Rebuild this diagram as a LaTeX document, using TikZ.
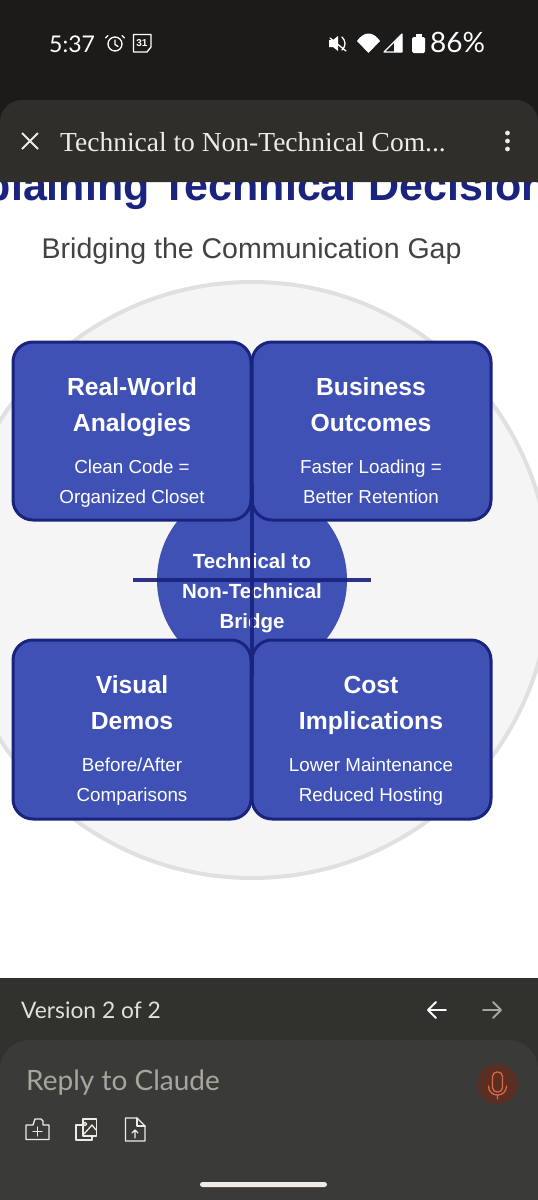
\documentclass[tikz,border=0pt]{standalone}
\usepackage{fontspec}
\setmainfont{Liberation Sans}
\newfontfamily\serifui{Liberation Serif}
\newfontfamily\uifont{Lato}
\newcommand{\fs}[1]{\fontsize{#1}{#1}\selectfont}
\definecolor{statusbg}{HTML}{1C1B1A}
\definecolor{headbg}{HTML}{2F2E2B}
\definecolor{footbg}{HTML}{31312E}
\definecolor{replybg}{HTML}{3A3A38}
\definecolor{indigo}{HTML}{3F51B5}
\definecolor{navy}{HTML}{1A237E}
\definecolor{ringfill}{HTML}{F5F5F5}
\definecolor{ringline}{HTML}{E0E0E0}
\definecolor{subtxt}{HTML}{424242}
\definecolor{uilight}{HTML}{EDEBE4}
\definecolor{uigrey}{HTML}{A8A69C}
\definecolor{micbg}{HTML}{5A2E20}
\definecolor{micfg}{HTML}{D9694A}
\tikzset{
  x=1pt,y=-1pt,
  card/.style={draw=navy,line width=3pt,fill=indigo,rounded corners=20pt},
  cardhead/.style={text=white,align=center,font=\fs{24.7}\bfseries,inner sep=0pt},
  cardbody/.style={text=white,align=center,font=\fs{18.8},inner sep=0pt},
  link/.style={draw=navy,line width=4.5pt,opacity=.92},
  uiicon/.style={draw=white,line width=1.3pt,line join=round,line cap=round},
  statustxt/.style={text=white,inner sep=0pt,anchor=base west},
}
\begin{document}
\begin{tikzpicture}
\useasboundingbox (0,0) rectangle (538,1200);
\fill[white] (0,0) rectangle (538,1200);
% diagram backdrop
\node[circle,draw=ringline,line width=4pt,fill=ringfill,minimum size=596pt,inner sep=0pt] (ring) at (252,580) {};
\node[text=navy,inner sep=0pt,anchor=base,font=\fs{43}\bfseries] (title) at (252,200) {Explaining Technical Decisions};
\node[text=subtxt,inner sep=0pt,anchor=base west,font=\fs{28.5}] (subtitle) at (41.5,258) {Bridging the Communication Gap};
% hub
\node[circle,fill=indigo,minimum size=190pt,inner sep=0pt] (hub) at (252,580) {};
\node[text=white,inner sep=0pt,anchor=base,font=\fs{20.5}\bfseries] (hub1) at (252,568) {Technical to};
\node[text=white,inner sep=0pt,anchor=base,font=\fs{20.5}\bfseries] (hub2) at (252,598) {Non-Technical};
\node[text=white,inner sep=0pt,anchor=base,font=\fs{20.5}\bfseries] (hub3) at (252,628) {Bridge};
% cards
\draw[card] (13,342) rectangle (251,520);
\draw[card] (252,342) rectangle (491,520);
\draw[card] (13,640) rectangle (251,819);
\draw[card] (252,640) rectangle (491,819);
\node[cardhead,anchor=base] (a1) at (132,395) {Real-World};
\node[cardhead,anchor=base] (a2) at (132,431) {Analogies};
\node[cardbody,anchor=base] (a3) at (132,473) {Clean Code =};
\node[cardbody,anchor=base] (a4) at (132,503) {Organized Closet};
\node[cardhead,anchor=base] (b1) at (371,395) {Business};
\node[cardhead,anchor=base] (b2) at (371,431) {Outcomes};
\node[cardbody,anchor=base] (b3) at (371,473) {Faster Loading =};
\node[cardbody,anchor=base] (b4) at (371,503) {Better Retention};
\node[cardhead,anchor=base] (c1) at (132,693) {Visual};
\node[cardhead,anchor=base] (c2) at (132,729) {Demos};
\node[cardbody,anchor=base] (c3) at (132,771) {Before/After};
\node[cardbody,anchor=base] (c4) at (132,801) {Comparisons};
\node[cardhead,anchor=base] (d1) at (371,693) {Cost};
\node[cardhead,anchor=base] (d2) at (371,729) {Implications};
\node[cardbody,anchor=base] (d3) at (371,771) {Lower Maintenance};
\node[cardbody,anchor=base] (d4) at (371,801) {Reduced Hosting};
% connectors
\coordinate (cl) at (133,580); \coordinate (cr) at (371,580);
\coordinate (ct) at (252,484); \coordinate (cb) at (252,676);
\draw[link] (cl) -- (cr);
\draw[link] (ct) -- (cb);
% status bar
\fill[statusbg] (0,0) rectangle (538,130);
\fill[headbg] (0,182) -- (0,122) .. controls (0,110) and (10,100) .. (22,100) -- (516,100) .. controls (528,100) and (538,110) .. (538,122) -- (538,182) -- cycle;
\node[statustxt,font=\uifont\fs{23}] (clock) at (49,52) {5:37};
\draw[uiicon] (115,44) circle[radius=7];
\draw[uiicon] (115,40) -- (115,44.5) -- (118,46.5);
\draw[uiicon] (105.5,38) -- (108,35.5) (122,35.5) -- (124.5,38);
\draw[uiicon] (133.5,34.5) -- (151,34.5) -- (151,47) -- (147,52) -- (133.5,52) -- cycle;
\node[text=white,inner sep=0pt,font=\fs{10}\bfseries] (cal) at (142,43.5) {31};
\draw[uiicon] (330,38) -- (346,51);
\fill[white] (329,40) -- (333,40) -- (338,36) -- (338,51) -- (333,47) -- (329,47) -- cycle;
\draw[uiicon] (342,37) .. controls (346,41) and (346,46) .. (342,50);
\fill[white] (357,41) .. controls (364,31) and (373,31) .. (380,41) -- (368.5,53) -- cycle;
\draw[uiicon,line width=1.1pt] (384,52) -- (402,34) -- (402,52) -- cycle;
\fill[white] (394,43) -- (402,34) -- (402,52) -- (394,52) -- cycle;
\fill[white,rounded corners=1.5pt] (412,37) rectangle (425,53);
\fill[white] (415.5,33.5) rectangle (421.5,38);
\node[statustxt,font=\uifont\fs{28}] (pct) at (430,52.5) {86\%};
% header bar
\draw[draw=uilight,line width=2pt] (22,133) -- (38,149) (38,133) -- (22,149);
\node[text=uilight,inner sep=0pt,anchor=base west,font=\serifui\fs{27.5}] (chat) at (60,151) {Technical to Non-Technical Com...};
\fill[uilight] (507.5,133) circle[radius=2.4] (507.5,141) circle[radius=2.4] (507.5,149) circle[radius=2.4];
% footer
\fill[footbg] (0,978) rectangle (538,1200);
\fill[replybg] (0,1200) -- (0,1070) .. controls (0,1053) and (13,1040) .. (30,1040) -- (508,1040) .. controls (525,1040) and (538,1053) .. (538,1070) -- (538,1200) -- cycle;
\node[text=uilight!90!gray,inner sep=0pt,anchor=base west,font=\uifont\fs{22.8}] (ver) at (21,1018) {Version 2 of 2};
\draw[uiicon,line width=1.8pt] (446,1010) -- (428,1010) (436,1002) -- (428,1010) -- (436,1018);
\draw[uiicon,draw=uigrey,line width=1.8pt] (483,1010) -- (501,1010) (493,1002) -- (501,1010) -- (493,1018);
\node[text=uigrey,inner sep=0pt,anchor=base west,font=\uifont\fs{28}] (reply) at (26,1090) {Reply to Claude};
\fill[micbg] (497.5,1084) circle[radius=20];
\draw[micfg,line width=1.3pt,line cap=round,rounded corners=4.5pt] (492.5,1072) rectangle (502.5,1092);
\draw[micfg,line width=1.3pt,line cap=round] (488.5,1086) .. controls (488.5,1098) and (506.5,1098) .. (506.5,1086) (497.5,1095) -- (497.5,1099);
\draw[uiicon,draw=uilight] (26,1125) -- (33,1125) -- (35,1119) -- (41,1119) -- (43,1121) -- (43,1125) -- (49,1125) -- (49,1139.5) -- (26,1139.5) -- cycle;
\draw[uiicon,draw=uilight] (33,1131.5) -- (42,1131.5) (37.5,1127) -- (37.5,1136);
\draw[uiicon,draw=uilight] (83,1119) -- (96.5,1119) -- (96.5,1136) -- (83,1136) -- cycle;
\draw[uiicon,draw=uilight] (83,1125) -- (76,1125) -- (76,1140) -- (92,1140) -- (92,1136);
\draw[uiicon,draw=uilight] (84,1134) -- (92,1125) -- (96,1130);
\draw[uiicon,draw=uilight] (85,1124) circle[radius=1.7];
\draw[uiicon,draw=uilight] (125.5,1118) -- (137,1118) -- (145,1126) -- (145,1141) -- (125.5,1141) -- cycle;
\draw[uiicon,draw=uilight] (137,1118) -- (137,1126) -- (145,1126);
\draw[uiicon,draw=uilight] (135,1138) -- (135,1130) (132,1133) -- (135,1130) -- (138,1133);
\fill[uilight,rounded corners=2.5pt] (200,1182) rectangle (327,1187);
\end{tikzpicture}
\end{document}
